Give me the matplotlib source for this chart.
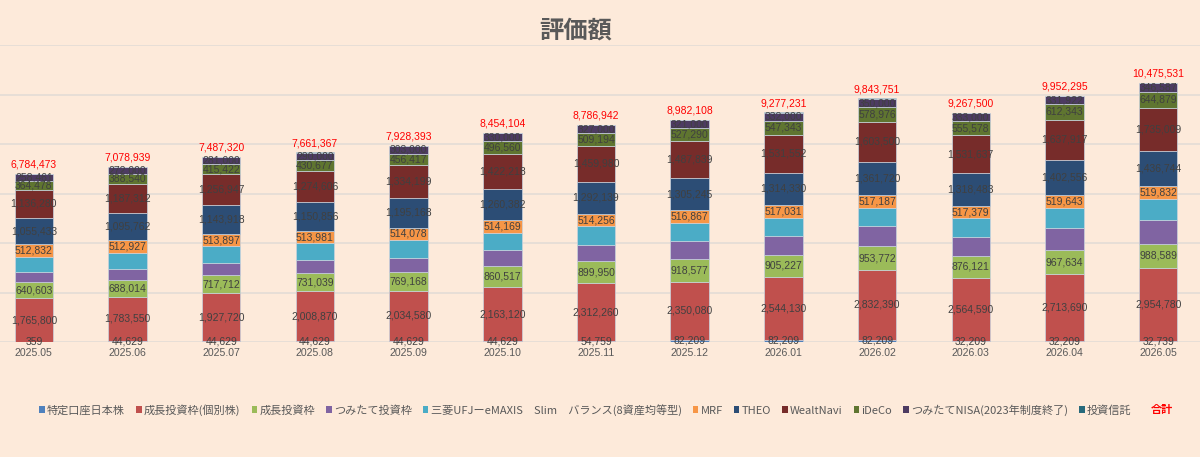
import numpy as np
import matplotlib.pyplot as plt
from matplotlib.patches import Patch
from matplotlib.lines import Line2D

plt.rcParams['font.family'] = ['Noto Sans CJK JP', 'DejaVu Sans']

# ----- Data (yen) -----
months = ["2025.05", "2025.06", "2025.07", "2025.08", "2025.09", "2025.10", "2025.11",
          "2025.12", "2026.01", "2026.02", "2026.03", "2026.04", "2026.05"]

tokutei = [359, 44629, 44629, 44629, 44629, 44629, 54759, 82209, 82209, 82209, 32209, 32209, 32739]
seichou_kobetsu = [1765800, 1783550, 1927720, 2008870, 2034580, 2163120, 2312260,
                   2350080, 2544130, 2832390, 2564590, 2713690, 2954780]
seichou = [640603, 688014, 717712, 731039, 769168, 860517, 899950,
           918577, 905227, 953772, 876121, 967634, 988589]
tsumitate = [410000, 425000, 500000, 520000, 560000, 640000, 655000,
             720000, 765000, 800000, 760000, 900000, 940000]
emaxis = [625000, 665000, 670000, 680000, 700000, 705000, 745000,
          735000, 720000, 745000, 760000, 815000, 857000]
mrf = [512832, 512927, 513897, 513981, 514078, 514169, 514256,
       516867, 517031, 517187, 517379, 519643, 519832]
theo = [1055433, 1095762, 1143918, 1150856, 1195168, 1260382, 1292139,
        1305245, 1314330, 1361720, 1318483, 1402556, 1436744]
wealthnavi = [1136280, 1187312, 1256947, 1274606, 1334199, 1422218, 1459980,
              1487839, 1531552, 1603500, 1531637, 1637917, 1735009]
ideco = [364478, 388540, 415422, 430677, 456417, 496560, 509194,
         527290, 547343, 578976, 555578, 612343, 644879]
nisa = [258461, 272000, 281000, 290000, 303000, 330000, 327000,
        321000, 332000, 350000, 333000, 331922, 346587]
toushin = [15227, 16205, 16075, 16709, 17154, 17509, 17404,
           18001, 18409, 18997, 18503, 19381, 19372]
totals = [6784473, 7078939, 7487320, 7661367, 7928393, 8454104, 8786942,
          8982108, 9277231, 9843751, 9267500, 9952295, 10475531]

series = [
    ("特定口座日本株", tokutei, "#4F81BD", True),
    ("成長投資枠(個別株)", seichou_kobetsu, "#C0504D", True),
    ("成長投資枠", seichou, "#9BBB59", True),
    ("つみたて投資枠", tsumitate, "#8064A2", False),
    ("三菱UFJーeMAXIS　Slim　バランス(8資産均等型)", emaxis, "#4BACC6", False),
    ("MRF", mrf, "#F79646", True),
    ("THEO", theo, "#2C4D75", True),
    ("WealtNavi", wealthnavi, "#772C2A", True),
    ("iDeCo", ideco, "#5F7530", True),
    ("つみたてNISA(2023年制度終了)", nisa, "#4D3B62", True),
    ("投資信託", toushin, "#276A7C", False),
]

bg = "#FDEADA"
num_font = "Liberation Sans"

# ----- Plot -----
fig = plt.figure(figsize=(12, 4.57), dpi=100, facecolor=bg)
ax = fig.add_axes([-13 / 1200, 115 / 457, 1218 / 1200, 297 / 457])
ax.set_facecolor(bg)

x = np.arange(len(months))
bottom = np.zeros(len(months))
handles = []
for name, vals, color, labeled in series:
    vals = np.array(vals, dtype=float)
    bars = ax.bar(x, vals, 0.41, bottom=bottom, color=color,
                  edgecolor="#C9D3DE", linewidth=0.5, zorder=3)
    if labeled:
        ax.bar_label(bars, labels=[f"{v:,.0f}" for v in vals], label_type="center",
                     fontsize=7.5, color="#404040", family=num_font, zorder=4)
    bottom += vals
    handles.append(Patch(facecolor=color, edgecolor="none"))

# total labels above each stack
for xi, top, tot in zip(x, bottom, totals):
    ax.annotate(f"{tot:,}", (xi, top), xytext=(0, 3), textcoords="offset points",
                ha="center", va="bottom", fontsize=7.5, color="#FF0000",
                family=num_font)

ax.set_xlim(-0.5, len(months) - 0.5)
ax.set_ylim(0, 12000000)
ax.set_yticks(np.arange(0, 12000001, 2000000))
ax.yaxis.grid(True, color="#E3DCD6", linewidth=1.2, zorder=0)
ax.set_yticklabels([])
ax.tick_params(axis="y", length=0)
ax.set_xticks(x)
ax.set_xticklabels(months, fontsize=7.6, color="#595959", family=num_font)
ax.tick_params(axis="x", length=0, pad=4)
for s in ax.spines.values():
    s.set_visible(False)

fig.text(576 / 1200, 1 - 31 / 457, "評価額", ha="center", va="center",
         fontsize=17.5, fontweight="bold", color="#595959")

labels = [s[0] for s in series] + ["合計"]
handles.append(Line2D([], [], linestyle="none"))
leg = fig.legend(handles, labels, loc="center", bbox_to_anchor=(606 / 1200, 1 - 410 / 457),
                 ncol=12, frameon=False, fontsize=8, handlelength=0.5, handleheight=0.5,
                 handletextpad=0.2, columnspacing=1.0, labelcolor="#595959")
last = leg.get_texts()[-1]
last.set_color("#FF0000")
last.set_fontweight("bold")

fig.savefig("out.png", dpi=100, facecolor=bg)
